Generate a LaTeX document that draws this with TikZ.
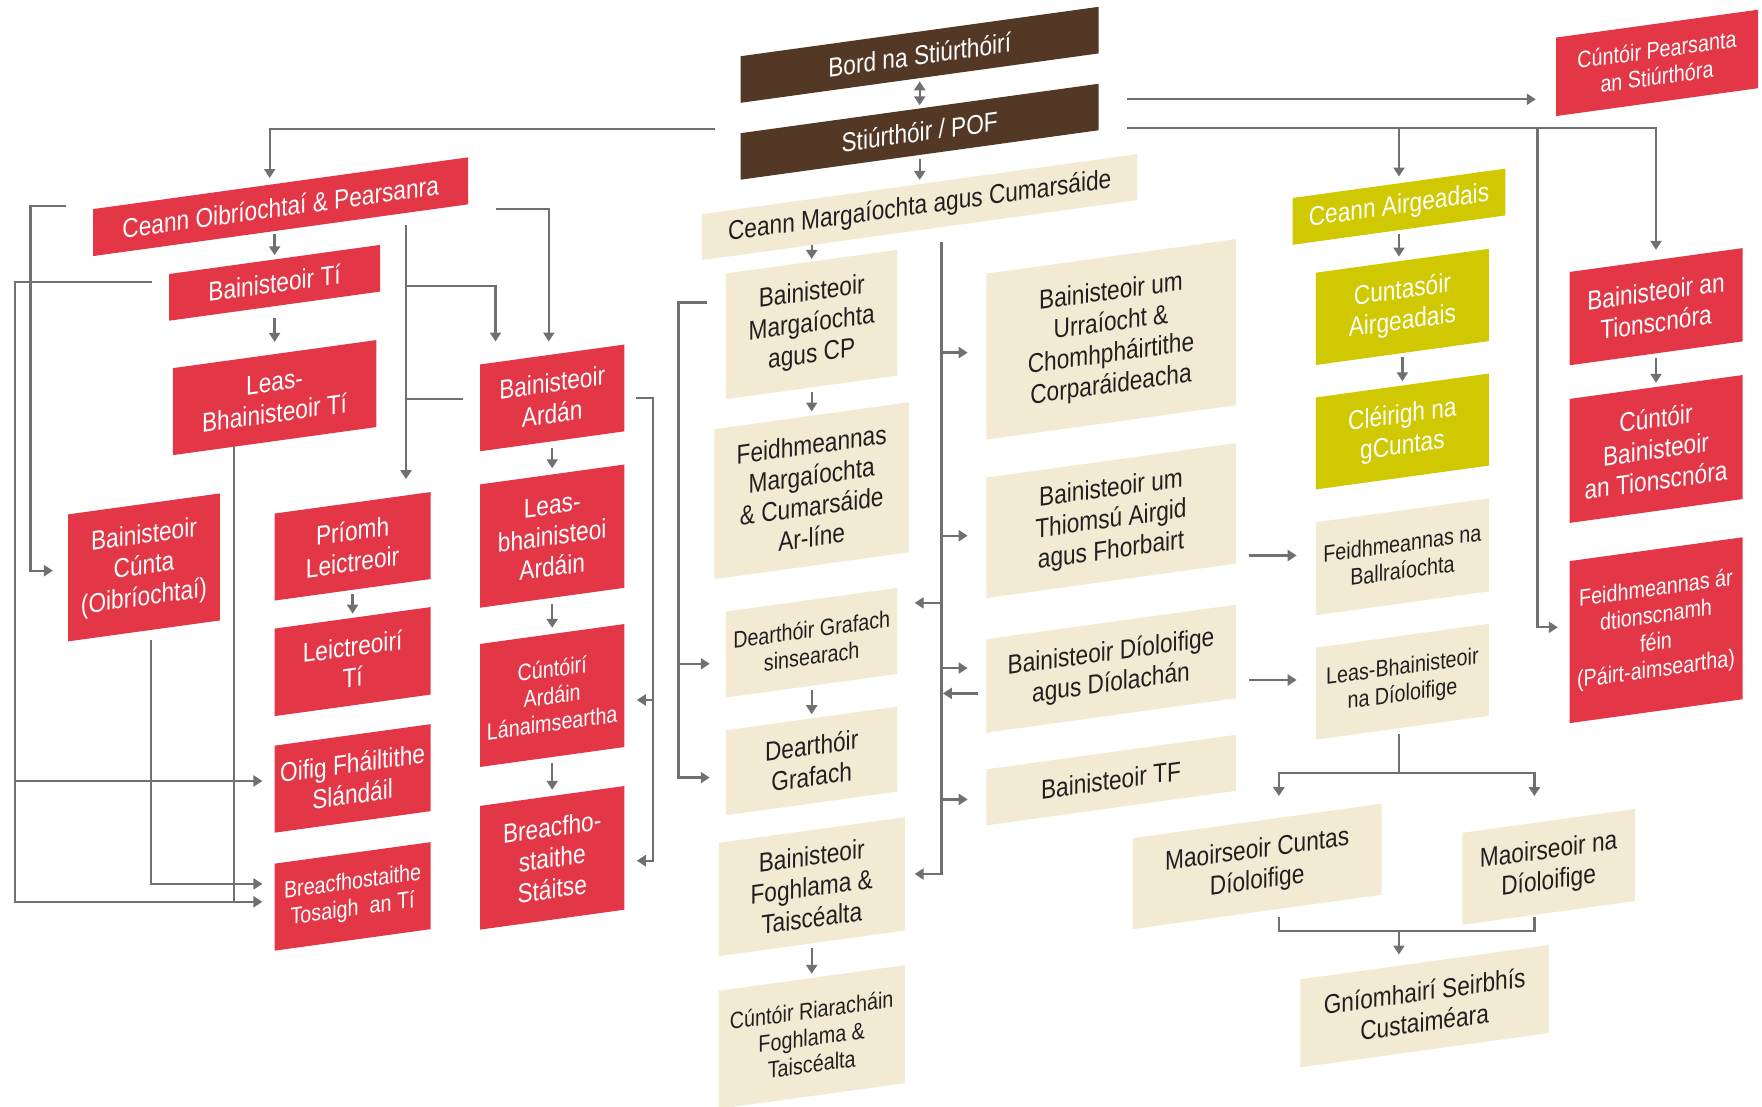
\documentclass[tikz,border=0pt]{standalone}
\usepackage{fontspec}
\setmainfont{Liberation Sans}[FakeStretch=0.84]
\usetikzlibrary{arrows.meta}

\definecolor{cred}{RGB}{227,54,70}
\definecolor{cbrown}{RGB}{84,56,38}
\definecolor{colive}{RGB}{208,200,0}
\definecolor{cbeige}{RGB}{242,234,211}
\definecolor{ctext}{RGB}{35,31,32}
\definecolor{cline}{RGB}{112,112,112}

\tikzset{
  box/.style={rectangle, inner sep=0pt, align=center, yslant=0.138,
    font=\fontsize{27}{31}\selectfont},
  sz/.style 2 args={minimum width=#1pt, minimum height=#2pt},
  smalltext/.style={font=\fontsize{23.5}{27}\selectfont},
  redbox/.style={box, fill=cred, text=white},
  brownbox/.style={box, fill=cbrown, text=white},
  olivebox/.style={box, fill=colive, text=white},
  beigebox/.style={box, fill=cbeige, text=ctext},
  line/.style={draw=cline, line width=2.3pt},
  arr/.style={line, -{Triangle[length=9pt,width=11pt]}},
  arrtwo/.style={line, {Triangle[length=9pt,width=11pt]}-{Triangle[length=9pt,width=11pt]},
    shorten <=3pt, shorten >=3pt},
  col/.style={arr, shorten <=4pt, shorten >=4pt}
}

\begin{document}
\begin{tikzpicture}[x=1pt, y=-1pt]
  \useasboundingbox (0,0) rectangle (1762,1106);

  % board and director
  \node[brownbox, sz={358}{46.6}] (bord) at (919.7,54.8) {Bord na Stiúrthóirí};
  \node[brownbox, sz={358}{46.5}] (pof)  at (919.7,131.7) {Stiúrthóir / POF};

  % marketing
  \node[beigebox, sz={435}{46}]      (cmc)  at (919.7,207.1) {Ceann Margaíochta agus Cumarsáide};
  \node[beigebox, sz={171.5}{125.7}] (bmcp) at (811.7,324.5) {Bainisteoir\\Margaíochta\\agus CP};
  \node[beigebox, sz={194.5}{150}]   (fmc)  at (811.7,490.7) {Feidhmeannas\\Margaíochta\\\& Cumarsáide\\Ar-líne};
  \node[beigebox, smalltext, sz={171.5}{86}] (dgs) at (811.7,642.7) {Dearthóir Grafach\\sinsearach};
  \node[beigebox, sz={171.5}{85}]    (dg)   at (811.7,760.9) {Dearthóir\\Grafach};
  \node[beigebox, sz={186.3}{113.3}] (bft)  at (811.7,886.7) {Bainisteoir\\Foghlama \&\\Taiscéalta};
  \node[beigebox, smalltext, sz={186.3}{118}] (crf) at (811.7,1037) {Cúntóir Riaracháin\\Foghlama \&\\Taiscéalta};
  \node[beigebox, sz={249.5}{166}]   (bucc) at (1111,339.4) {Bainisteoir um\\Urraíocht \&\\Chomhpháirtithe\\Corparáideacha};
  \node[beigebox, sz={249.5}{120.5}] (bta)  at (1111,520.6) {Bainisteoir um\\Thiomsú Airgid\\agus Fhorbairt};
  \node[beigebox, sz={249.5}{93.5}]  (bdd)  at (1111,668.7) {Bainisteoir Díoloifige\\agus Díolachán};
  \node[beigebox, sz={249.5}{56}]    (btf)  at (1111,780.1) {Bainisteoir TF};

  % finance
  \node[olivebox, sz={212.7}{46.8}] (ca)  at (1399,206.7) {Ceann Airgeadais};
  \node[olivebox, sz={173}{92.3}]   (cua) at (1402.4,306.9) {Cuntasóir\\Airgeadais};
  \node[olivebox, sz={173}{92}]     (cng) at (1402.4,431.5) {Cléirigh na\\gCuntas};
  \node[beigebox, smalltext, sz={173}{93}] (fnb) at (1402.4,556.8) {Feidhmeannas na\\Ballraíochta};
  \node[beigebox, smalltext, sz={173}{92}] (lbd) at (1402.4,681.7) {Leas-Bhainisteoir\\na Díoloifige};
  \node[beigebox, sz={249}{91}]     (mcd) at (1257.2,866.4) {Maoirseoir Cuntas\\Díoloifige};
  \node[beigebox, sz={172.4}{92}]   (mnd) at (1548.6,866.9) {Maoirseoir na\\Díoloifige};
  \node[beigebox, sz={248.3}{88}]   (gsc) at (1424.6,1006.2) {Gníomhairí Seirbhís\\Custaiméara};

  % projects
  \node[redbox, smalltext, sz={202}{78.5}] (cps) at (1657,62.9) {Cúntóir Pearsanta\\an Stiúrthóra};
  \node[redbox, sz={173}{93.3}] (bat)  at (1656,306.7) {Bainisteoir an\\Tionscnóra};
  \node[redbox, sz={173}{124}]  (cbat) at (1656,449) {Cúntóir\\Bainisteoir\\an Tionscnóra};
  \node[redbox, smalltext, sz={173}{162}] (fdf) at (1656,630.2) {Feidhmeannas ár\\dtionscnamh\\féin\\(Páirt-aimseartha)};

  % operations
  \node[redbox, sz={375}{47}]     (cop) at (280.7,206.7) {Ceann Oibríochtaí \& Pearsanra};
  \node[redbox, sz={211}{46.7}]   (bti) at (274.6,282.8) {Bainisteoir Tí};
  \node[redbox, sz={203.6}{87}]   (lbt) at (274.6,397.6) {Leas-\\Bhainisteoir Tí};
  \node[redbox, sz={151.8}{127}]  (bcu) at (144,567.4) {Bainisteoir\\Cúnta\\(Oibríochtaí)};
  \node[redbox, sz={156}{87}]     (ple) at (352.6,546.3) {Príomh\\Leictreoir};
  \node[redbox, sz={156}{87.5}]   (lti) at (352.6,661.6) {Leictreoirí\\Tí};
  \node[redbox, sz={156}{87}]     (ofs) at (352.6,778.4) {Oifig Fháiltithe\\Slándáil};
  \node[redbox, smalltext, sz={156}{87}] (bts) at (352.6,896.4) {Breacfhostaithe\\Tosaigh~ an Tí};
  \node[redbox, sz={144.4}{86.8}] (ban) at (552.2,397.9) {Bainisteoir\\Ardán};
  \node[redbox, sz={144.4}{123.3}] (lba) at (552.2,536.1) {Leas-\\bhainisteoi\\Ardáin};
  \node[redbox, smalltext, sz={144.4}{123}] (caa) at (552.2,695.5) {Cúntóirí\\Ardáin\\Lánaimseartha};
  \node[redbox, sz={144.4}{123.7}] (bst) at (552.2,857.8) {Breacfho-\\staithe\\Stáitse};

  % top links
  \draw[arrtwo] (bord.south) -- (pof.north);
  \draw[col] (pof.south) -- (cmc.north);
  \coordinate (pofl) at (714.8,129.3);
  \draw[arr, shorten >=5pt] (pofl) -| ([xshift=-11pt]cop.north);
  \coordinate (pofr) at (1127,99.3);
  \draw[arr, shorten >=20pt] (pofr) -- (pofr -| cps.west);
  \coordinate (pofs) at (1127,128);
  \draw[arr, shorten >=10pt] (pofs) -| (bat.north);
  \draw[arr, shorten >=6.6pt] (pofs -| ca.north) -- (ca.north);
  \coordinate (fdfj) at (1537.6,627.3);
  \draw[arr, shorten >=11.5pt] (pofs -| fdfj) -- (fdfj) -- (fdfj -| fdf.west);

  % columns
  \draw[arr, shorten <=15pt, shorten >=2.5pt] (cmc.south -| bmcp.north) -- (bmcp.north);
  \draw[col] (bmcp.south) -- (fmc.north);
  \draw[col] (dgs.south) -- (dg.north);
  \draw[col] (bft.south) -- (crf.north);
  \draw[col] (ca.south) -- (ca.south |- cua.north);
  \draw[col] (cua.south) -- (cng.north);
  \draw[col] (bat.south) -- (bat.south |- cbat.north);
  \draw[col] (cop.south -| bti.north) -- (bti.north);
  \draw[arr, shorten <=12pt, shorten >=12pt] (bti.south) -- (lbt.north);
  \draw[col] (ple.south) -- (lti.north);
  \draw[col, shorten <=6pt, shorten >=6pt] (ban.south) -- (lba.north);
  \draw[col, shorten <=6pt, shorten >=6pt] (lba.south) -- (caa.north);
  \draw[col, shorten <=6pt, shorten >=6pt] (caa.south) -- (bst.north);

  % operations links
  \coordinate (copl) at (66,205.7);
  \coordinate (bcuin) at (30.4,570.7);
  \draw[arr, shorten >=15pt] (copl) -| (bcuin) -- (bcuin -| bcu.west);
  \coordinate (btil) at (151.8,282.3);
  \coordinate (btsin) at (15.2,901.8);
  \draw[arr, shorten >=12pt] (btil) -| (btsin) -- (btsin -| bts.west);
  \coordinate (ofsin) at (15.2,781);
  \draw[arr, shorten >=12pt] (ofsin) -- (ofsin -| ofs.west);
  \coordinate (lbtd) at (234.2,446.4);
  \draw[line] (lbtd) -- (lbtd |- btsin);
  \coordinate (bcud) at (151.3,640);
  \coordinate (bcuc) at (151.3,883.9);
  \draw[arr, shorten >=12pt] (bcud) -- (bcuc) -- (bcuc -| bts.west);
  \coordinate (copr) at (495.8,209.3);
  \draw[arr, shorten >=12.8pt] (copr) -| ([xshift=-3.4pt]ban.north);
  \coordinate (copd) at (406,225);
  \draw[arr, shorten >=23.5pt] (copd) -- (copd |- ple.north);
  \coordinate (copj) at (406,285.7);
  \draw[arr, shorten >=12.8pt] (copj) -| ([xshift=-56.7pt]ban.north);
  \coordinate (banl) at (462.6,399);
  \draw[line] (copd |- banl) -- (banl);
  \coordinate (banr) at (636.4,398.3);
  \coordinate (bstin) at (652.7,860.7);
  \draw[arr, shorten >=12.2pt] (banr) -| (bstin) -- (bstin -| bst.east);
  \coordinate (caain) at (652.7,700);
  \draw[arr, shorten >=12.2pt] (caain) -- (caain -| caa.east);

  % marketing links
  \coordinate (mkl) at (707.2,302.4);
  \coordinate (dgin) at (678.5,777.6);
  \draw[arr, shorten >=16pt] (mkl) -| (dgin) -- (dgin -| dg.west);
  \coordinate (dgsin) at (678.5,663.8);
  \draw[arr, shorten >=16pt] (dgsin) -- (dgsin -| dgs.west);
  \coordinate (mkt) at (941.4,241.9);
  \coordinate (bftin) at (941.4,874);
  \draw[arr, shorten >=9.6pt] (mkt) -- (bftin) -- (bftin -| bft.east);
  \foreach \n/\y in {bucc/352.6, bta/535.7, bdd/668.1, btf/799.4} {
    \coordinate (p) at (941.4,\y);
    \draw[arr, shorten >=18.4pt] (p) -- (p -| \n.west);
  }
  \coordinate (dgsout) at (941.4,602.9);
  \draw[arr, shorten >=17pt] (dgsout) -- (dgsout -| dgs.east);
  \coordinate (bddout) at (977.7,693.4);
  \draw[arr, shorten >=1.5pt] (bddout) -- (mkt |- bddout);

  % finance links
  \foreach \n/\y in {fnb/555.5, lbd/680} {
    \coordinate (p) at (1249.1,\y);
    \draw[arr, shorten >=19pt] (p) -- (p -| \n.west);
  }
  \coordinate (lbdd) at (1398.9,734.3);
  \coordinate (lbdj) at (1398.9,773.1);
  \draw[line] (lbdd) -- (lbdj);
  \draw[arr, shorten >=24.6pt] (lbdj) -| ([xshift=21.7pt]mcd.north);
  \draw[arr, shorten >=24.6pt] (lbdj) -| ([xshift=-14.2pt]mnd.north);
  \coordinate (gscj) at (1398.9,931);
  \draw[line, shorten <=5pt, shorten >=4pt] ([xshift=21.7pt]mcd.south) |- (gscj) -| ([xshift=-14.2pt]mnd.south);
  \draw[arr, shorten >=7.5pt] (gscj) -- (gscj |- gsc.north);
\end{tikzpicture}
\end{document}
